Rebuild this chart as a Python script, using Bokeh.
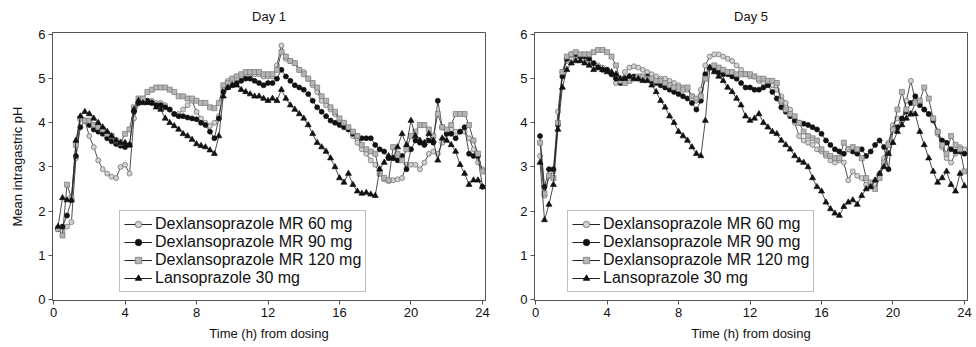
from bokeh.plotting import figure
from bokeh.layouts import row
from bokeh.models import ColumnDataSource, Legend, LegendItem, Range1d, FixedTicker
from bokeh.embed import file_html
from bokeh.resources import INLINE

# sampling times (h), every 15 min
times = [round(0.25 * i, 2) for i in range(1, 97)]

labels = ["Dexlansoprazole MR 60 mg", "Dexlansoprazole MR 90 mg",
          "Dexlansoprazole MR 120 mg", "Lansoprazole 30 mg"]
x_ticks = [0, 4, 8, 12, 16, 20, 24]
y_ticks = [0, 1, 2, 3, 4, 5, 6]

# ---------------- Day 1 ----------------
d1_60 = [1.60, 1.55, 1.65, 1.75, 3.20, 4.10, 4.05, 3.70, 3.45, 3.15, 2.95, 2.85,
         2.78, 2.75, 3.00, 3.05, 2.85, 4.10, 4.45, 4.50, 4.50, 4.50, 4.45, 4.45,
         4.40, 4.30, 4.20, 4.20, 4.30, 4.40, 4.50, 4.25, 4.10, 4.00, 3.93, 4.00,
         4.15, 4.75, 4.95, 5.00, 5.05, 5.05, 5.10, 5.10, 5.10, 5.10, 5.05, 5.05,
         5.05, 5.30, 5.75, 5.45, 5.40, 5.35, 5.20, 5.15, 5.00, 4.85, 4.70, 4.50,
         4.40, 4.30, 4.20, 4.05, 3.95, 3.85, 3.70, 3.55, 3.40, 3.30, 3.15, 3.05,
         2.85, 2.72, 2.68, 2.70, 2.72, 2.75, 3.05, 3.05, 3.05, 2.95, 3.10, 3.30,
         3.35, 3.30, 3.55, 3.75, 3.85, 3.80, 3.80, 3.80, 3.65, 3.40, 3.10, 2.95]
d1_90 = [1.60, 1.65, 1.90, 2.25, 3.25, 3.90, 4.05, 3.95, 3.85, 3.80, 3.75, 3.65,
         3.58, 3.52, 3.48, 3.45, 3.50, 4.25, 4.45, 4.50, 4.50, 4.45, 4.40, 4.40,
         4.35, 4.30, 4.20, 4.15, 4.15, 4.12, 4.10, 4.08, 4.00, 3.95, 3.80, 3.65,
         4.10, 4.70, 4.80, 4.85, 4.90, 4.95, 5.00, 5.00, 4.95, 4.90, 4.85, 4.90,
         4.90, 5.00, 5.20, 5.05, 4.95, 4.85, 4.80, 4.75, 4.65, 4.50, 4.35, 4.25,
         4.15, 4.05, 4.00, 3.95, 3.90, 3.85, 3.75, 3.70, 3.65, 3.65, 3.65, 3.50,
         3.40, 3.35, 3.20, 3.20, 3.15, 3.25, 2.95, 3.40, 3.60, 3.55, 3.50, 3.60,
         3.55, 4.50, 3.90, 3.75, 3.75, 3.65, 3.80, 3.90, 3.30, 3.25, 3.25, 2.55]
d1_120 = [1.60, 1.45, 2.60, 2.30, 3.50, 4.10, 4.05, 4.05, 3.95, 3.90, 3.85, 3.75,
          3.70, 3.60, 3.55, 3.75, 3.85, 4.35, 4.55, 4.55, 4.70, 4.75, 4.80, 4.80,
          4.80, 4.75, 4.70, 4.60, 4.60, 4.55, 4.55, 4.50, 4.45, 4.45, 4.35, 4.33,
          4.45, 4.85, 4.90, 5.00, 5.05, 5.10, 5.15, 5.15, 5.15, 5.15, 5.10, 5.10,
          5.10, 5.20, 5.60, 5.50, 5.40, 5.35, 5.20, 5.10, 5.00, 4.90, 4.80, 4.60,
          4.50, 4.35, 4.25, 4.10, 4.00, 3.90, 3.80, 3.70, 3.50, 3.40, 3.35, 3.30,
          2.85, 2.75, 2.70, 3.45, 3.30, 3.15, 3.40, 3.70, 3.80, 3.95, 3.95, 3.85,
          3.70, 4.20, 3.90, 3.85, 3.95, 4.20, 4.20, 4.20, 3.95, 3.60, 3.30, 2.90]
d1_30 = [1.65, 2.30, 2.25, 2.25, 3.60, 4.15, 4.25, 4.20, 4.10, 4.00, 3.90, 3.80,
         3.70, 3.60, 3.55, 3.55, 3.50, 4.30, 4.50, 4.45, 4.45, 4.45, 4.35, 4.30,
         4.10, 4.00, 3.93, 3.85, 3.75, 3.70, 3.62, 3.52, 3.48, 3.45, 3.38, 3.30,
         3.70, 4.60, 4.80, 4.85, 4.85, 4.75, 4.70, 4.65, 4.60, 4.60, 4.55, 4.50,
         4.55, 4.50, 4.75, 4.55, 4.40, 4.30, 4.20, 4.10, 3.95, 3.75, 3.55, 3.45,
         3.35, 3.20, 3.00, 2.75, 2.65, 2.85, 2.60, 2.45, 2.40, 2.42, 2.38, 2.35,
         2.95, 3.10, 3.25, 3.20, 3.45, 3.75, 3.50, 4.05, 3.70, 3.60, 3.55, 3.75,
         3.60, 3.15, 3.65, 3.60, 3.50, 3.35, 3.05, 2.85, 2.60, 2.70, 2.70, 2.55]

# ---------------- Day 5 ----------------
d5_60 = [3.25, 2.35, 2.80, 2.90, 4.25, 5.15, 5.40, 5.45, 5.50, 5.50, 5.45, 5.40,
         5.35, 5.30, 5.25, 5.20, 5.10, 4.90, 4.95, 5.15, 5.25, 5.28, 5.25, 5.20,
         5.15, 5.10, 5.05, 5.00, 5.00, 4.95, 4.90, 4.85, 4.80, 4.75, 4.60, 4.50,
         4.75, 5.30, 5.50, 5.55, 5.55, 5.50, 5.45, 5.40, 5.30, 5.20, 5.10, 5.05,
         5.05, 4.95, 4.90, 4.90, 4.85, 4.75, 4.60, 4.45, 4.30, 4.00, 3.70, 3.60,
         3.55, 3.50, 3.40, 3.35, 3.25, 3.15, 3.10, 3.15, 3.10, 2.70, 2.90, 2.80,
         2.75, 2.60, 2.55, 2.60, 2.85, 3.20, 3.55, 3.95, 4.10, 4.05, 4.50, 4.95,
         4.50, 4.45, 4.30, 4.20, 4.10, 3.75, 3.45, 3.20, 3.10, 3.30, 3.45, 3.40]
d5_90 = [3.70, 2.55, 2.95, 2.95, 3.95, 5.05, 5.45, 5.55, 5.55, 5.50, 5.50, 5.45,
         5.35, 5.25, 5.20, 5.20, 5.10, 5.00, 4.90, 5.00, 5.05, 5.05, 5.00, 5.00,
         5.05, 4.95, 4.90, 4.85, 4.80, 4.75, 4.70, 4.65, 4.60, 4.55, 4.45, 4.30,
         4.50, 5.10, 5.25, 5.20, 5.15, 5.10, 5.10, 5.05, 5.00, 4.90, 4.80, 4.80,
         4.75, 4.75, 4.80, 4.85, 4.70, 4.55, 4.35, 4.25, 4.15, 4.05, 4.00, 3.98,
         3.95, 3.90, 3.85, 3.75, 3.60, 3.50, 3.40, 3.35, 3.30, 3.40, 3.35, 3.30,
         3.40, 3.25, 3.35, 3.50, 3.60, 3.45, 2.95, 3.85, 3.90, 4.10, 4.25, 4.45,
         4.60, 4.40, 4.30, 4.20, 4.05, 3.80, 3.60, 3.55, 3.40, 3.35, 3.35, 3.30]
d5_120 = [3.55, 2.40, 2.80, 2.75, 4.00, 5.15, 5.50, 5.55, 5.60, 5.55, 5.55, 5.55,
          5.60, 5.65, 5.65, 5.60, 5.50, 5.30, 4.95, 4.90, 4.95, 5.00, 5.05, 5.05,
          5.00, 5.00, 4.95, 4.95, 4.90, 4.85, 4.80, 4.80, 4.75, 4.80, 4.60, 4.55,
          4.60, 5.00, 5.25, 5.30, 5.25, 5.20, 5.15, 5.15, 5.10, 5.10, 5.10, 5.10,
          5.05, 5.00, 5.00, 4.95, 4.95, 4.90, 4.50, 4.30, 4.20, 4.15, 4.00, 3.80,
          3.70, 3.65, 3.60, 3.40, 3.30, 3.25, 3.20, 3.20, 3.55, 3.40, 3.45, 3.40,
          3.20, 2.75, 2.65, 2.50, 2.75, 3.10, 3.50, 3.85, 4.30, 4.70, 4.30, 4.20,
          4.45, 4.50, 4.80, 4.55, 4.10, 3.80, 3.50, 3.30, 3.70, 3.50, 3.40, 2.90]
d5_30 = [3.10, 1.80, 2.15, 2.60, 3.85, 4.80, 5.20, 5.35, 5.40, 5.40, 5.35, 5.30,
         5.20, 5.25, 5.20, 5.15, 5.15, 5.10, 5.00, 5.00, 5.05, 5.00, 5.00, 4.95,
         4.95, 4.85, 4.70, 4.50, 4.35, 4.15, 4.00, 3.80, 3.70, 3.60, 3.45, 3.30,
         3.25, 4.05, 5.25, 5.15, 5.05, 4.95, 4.80, 4.70, 4.55, 4.40, 4.15, 4.05,
         4.10, 4.20, 4.00, 3.90, 3.80, 3.75, 3.60, 3.50, 3.40, 3.25, 3.15, 3.10,
         3.00, 2.75, 2.55, 2.45, 2.20, 2.05, 1.95, 1.90, 2.10, 2.20, 2.25, 2.15,
         2.35, 2.50, 2.55, 2.70, 2.85, 3.00, 3.30, 3.55, 3.80, 3.95, 4.10, 4.20,
         4.20, 3.80, 3.50, 3.20, 2.90, 2.65, 2.75, 2.90, 2.60, 2.45, 2.85, 2.57]

FONT = "Liberation Sans"
AX = "#555555"

styles = [
    dict(marker="circle", fill="#d2d2d2", line="#6a6a6a", size=5, lsize=10),
    dict(marker="circle", fill="#111111", line="#111111", size=5, lsize=10),
    dict(marker="square", fill="#b5b5b5", line="#777777", size=5, lsize=10),
    dict(marker="triangle", fill="#111111", line="#111111", size=6, lsize=11),
]


def make_panel(title, series, width, bl, br, legend_x, ylabel):
    p = figure(width=width, height=346, title=title,
               x_range=Range1d(-0.06, 24.17), y_range=Range1d(-0.023, 6.045),
               output_backend="svg", toolbar_location=None,
               min_border_left=bl, min_border_right=br,
               min_border_top=31, min_border_bottom=46)
    p.title.align = "center"
    p.title.vertical_align = "middle"
    p.title.text_font = FONT
    p.title.text_font_size = "13px"
    p.title.text_font_style = "normal"
    p.title.text_color = "#111111"
    p.title.standoff = 15
    p.xgrid.visible = False
    p.ygrid.visible = False
    p.outline_line_color = AX
    p.outline_line_width = 1
    p.background_fill_color = "white"
    p.border_fill_color = "white"

    p.xaxis.ticker = FixedTicker(ticks=x_ticks)
    p.yaxis.ticker = FixedTicker(ticks=y_ticks)
    for ax in (p.xaxis[0], p.yaxis[0]):
        ax.axis_line_color = AX
        ax.major_tick_line_color = AX
        ax.minor_tick_line_color = None
        ax.major_tick_in = 0
        ax.major_tick_out = 4
        ax.major_label_text_font = FONT
        ax.major_label_text_font_size = "13px"
        ax.major_label_text_color = "#111111"
        ax.major_label_standoff = 3
        ax.axis_label_text_font = FONT
        ax.axis_label_text_font_size = "13px"
        ax.axis_label_text_font_style = "normal"
        ax.axis_label_text_color = "#111111"
    p.xaxis.axis_label = "Time (h) from dosing"
    p.xaxis.axis_label_standoff = 6
    if ylabel:
        p.yaxis.axis_label = ylabel
        p.yaxis.axis_label_standoff = 10

    items = []
    for vals, st, lab in zip(series, styles, labels):
        src = ColumnDataSource(dict(t=times, v=vals))
        p.line("t", "v", source=src, line_color="#222222", line_width=0.8)
        p.scatter("t", "v", source=src, marker=st["marker"], size=st["size"],
                  fill_color=st["fill"], line_color=st["line"], line_width=0.7)
        # larger glyphs used only for the legend (drawn outside visible range)
        dummy = ColumnDataSource(dict(t=[-50.0, -49.0], v=[-50.0, -50.0]))
        lr = p.line("t", "v", source=dummy, line_color="#222222", line_width=1)
        sr = p.scatter("t", "v", source=dummy, marker=st["marker"], size=st["lsize"],
                       fill_color=st["fill"], line_color=st["line"], line_width=0.8)
        items.append(LegendItem(label=lab, renderers=[lr, sr]))

    legend = Legend(items=items, location=(legend_x, 8))
    legend.label_text_font = FONT
    legend.label_text_font_size = "16px"
    legend.label_text_line_height = 0.95
    legend.label_text_color = "#111111"
    legend.border_line_color = "#808080"
    legend.border_line_width = 1
    legend.background_fill_color = "white"
    legend.background_fill_alpha = 1
    legend.padding = 4
    legend.spacing = 0
    legend.margin = 0
    legend.label_height = 16
    legend.glyph_height = 16
    legend.glyph_width = 28
    legend.label_standoff = 3
    p.add_layout(legend)
    return p


p1 = make_panel("Day 1", [d1_60, d1_90, d1_120, d1_30], 495, 52, 10, 67,
                "Mean intragastric pH")
p2 = make_panel("Day 5", [d5_60, d5_90, d5_120, d5_30], 478, 39, 6, 33, None)

layout = row(p1, p2)
open("out.html", "w").write(file_html(layout, INLINE))
